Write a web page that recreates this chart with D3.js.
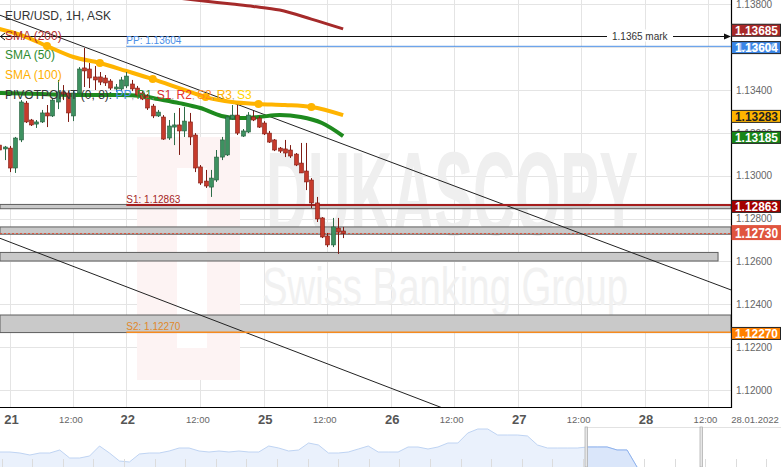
<!DOCTYPE html>
<html><head><meta charset="utf-8">
<script src="https://cdn.jsdelivr.net/npm/d3@7"></script>
<style>html,body{margin:0;padding:0;background:#fff;} svg{display:block;font-family:"Liberation Sans",Arial,sans-serif;}</style>
</head><body><svg id="c" width="781" height="467"></svg>
<script>
// ---------- DATA ----------
const openP  = [1.13143,1.13125,1.13129,1.13036,1.13167,1.13339,1.13260,1.13241,1.13251,1.13293,1.13279,1.13344,1.13391,1.13386,1.13279,1.13386,1.13503,1.13498,1.13461,1.13461,1.13456,1.13442,1.13405,1.13405,1.13419,1.13428,1.13409,1.13386,1.13372,1.13325,1.13279,1.13274,1.13176,1.13227,1.13237,1.13209,1.13251,1.13190,1.13041,1.12975,1.12947,1.12980,1.13087,1.13097,1.13265,1.13283,1.13185,1.13204,1.13274,1.13269,1.13246,1.13199,1.13167,1.13129,1.13125,1.13120,1.13101,1.13059,1.13022,1.12980,1.12873,1.12803,1.12719,1.12677,1.12756,1.12742];
const highP  = [1.13153,1.13139,1.13139,1.13181,1.13353,1.13349,1.13265,1.13260,1.13307,1.13330,1.13363,1.13447,1.13423,1.13395,1.13400,1.13507,1.13596,1.13526,1.13512,1.13484,1.13470,1.13451,1.13428,1.13461,1.13484,1.13447,1.13419,1.13395,1.13381,1.13335,1.13307,1.13283,1.13260,1.13293,1.13316,1.13321,1.13293,1.13199,1.13050,1.13027,1.13027,1.13120,1.13181,1.13283,1.13330,1.13330,1.13218,1.13297,1.13302,1.13279,1.13255,1.13209,1.13171,1.13134,1.13167,1.13143,1.13106,1.13153,1.13153,1.12989,1.12901,1.12807,1.12733,1.12803,1.12803,1.12761];
const lowP   = [1.13097,1.13073,1.13017,1.13013,1.13157,1.13246,1.13232,1.13223,1.13246,1.13227,1.13274,1.13311,1.13353,1.13251,1.13255,1.13381,1.13414,1.13409,1.13400,1.13423,1.13419,1.13400,1.13391,1.13395,1.13409,1.13395,1.13367,1.13353,1.13307,1.13269,1.13274,1.13167,1.13167,1.13143,1.13097,1.13181,1.13143,1.13017,1.12957,1.12943,1.12901,1.12971,1.13073,1.13092,1.13260,1.13190,1.13181,1.13199,1.13255,1.13223,1.13190,1.13153,1.13115,1.13106,1.13087,1.13083,1.13045,1.13013,1.12933,1.12849,1.12784,1.12709,1.12667,1.12667,1.12635,1.12709];
const closeP = [1.13120,1.13134,1.13036,1.13176,1.13344,1.13251,1.13237,1.13251,1.13293,1.13279,1.13353,1.13391,1.13381,1.13293,1.13386,1.13498,1.13489,1.13456,1.13447,1.13437,1.13433,1.13409,1.13414,1.13447,1.13465,1.13405,1.13377,1.13358,1.13316,1.13279,1.13297,1.13171,1.13232,1.13237,1.13209,1.13255,1.13181,1.13036,1.12966,1.12952,1.12989,1.13087,1.13167,1.13274,1.13283,1.13199,1.13209,1.13283,1.13260,1.13227,1.13195,1.13157,1.13120,1.13115,1.13106,1.13092,1.13050,1.13013,1.12971,1.12873,1.12798,1.12714,1.12677,1.12761,1.12737,1.12730];

const sma100Idx = [0,4,9,14,19,24,29,34,39,44,49,54,59,65];
const sma100Val = [1.13685,1.13657,1.13605,1.13554,1.13526,1.13489,1.13451,1.13409,1.13367,1.13344,1.13335,1.13330,1.13321,1.13283];
const sma100Markers = [9,19,29,39,49,59];
const sma50Idx = [0,8,15,23,27,30,34,38,42,45,49,53,57,61,65];
const sma50Val = [1.13386,1.13381,1.13377,1.13377,1.13372,1.13358,1.13339,1.13316,1.13279,1.13269,1.13274,1.13283,1.13274,1.13246,1.13185];
const sma200Idx = [30,37,44,48,53,59,65];
const sma200Val = [1.13840,1.13820,1.13801,1.13790,1.13773,1.13731,1.13685];

const trendUpper = [[0,1.13750],[138.35,1.12467]];
const trendLower = [[0,1.12709],[138.35,1.11400]];

const zoneTop    = [1.12866,1.12761,1.12642,1.12350];
const zoneBottom = [1.12846,1.12727,1.12602,1.12268];
const zoneEnd    = [138.35,138.35,135.9,138.35];

const pivotStart = 24;
const ppValue = 1.13604, s1Value = 1.12863, s2Value = 1.12270;
const markValue = 1.1365, markLabel = "1.1365 mark";
const lastPrice = 1.12730;

const yTicks = [1.138,1.136,1.134,1.132,1.130,1.128,1.126,1.124,1.122,1.120];
const xTickIdx = [2,14,24,38,50,62,74,86,98,110,122,134];
const xTickLabels = ["21","12:00","22","12:00","25","12:00","26","12:00","27","12:00","28","12:00"];
const rightDateLabel = "28.01.2022";

const navValues = [15,15,14,12,14,14,17,9,9,11,21,14,6,5,13,14,14,16,19,19,16,15,16,15,16,15,15,21,19,16,17,24,22,14,14,15,18,21,15,15,15,20,20,18,20,24,24,34,38,38,32,32,32,31,22,19,19,19,19,20,20,20,17,17,0];

// ---------- SETUP ----------
const svg = d3.select("#c");
const plotR = 731, plotB = 407;
const x = d3.scaleLinear().domain([0,138.35]).range([-0.58,plotR]);
const y = d3.scaleLinear().domain([1.12,1.138]).range([390,4.3]);

svg.append("defs").append("clipPath").attr("id","plot")
  .append("rect").attr("x",0).attr("y",0).attr("width",plotR).attr("height",plotB);

// grid
const grid = svg.append("g");
grid.selectAll("line.h").data(yTicks).join("line")
  .attr("x1",0).attr("x2",plotR).attr("y1",d=>Math.round(y(d))+0.5).attr("y2",d=>Math.round(y(d))+0.5)
  .attr("stroke","#e4e4e4");
grid.selectAll("line.v").data(xTickIdx).join("line")
  .attr("y1",0).attr("y2",plotB).attr("x1",d=>Math.round(x(d))+0.5).attr("x2",d=>Math.round(x(d))+0.5)
  .attr("stroke","#e4e4e4");

// watermark
const wm = svg.append("g");
wm.append("rect").attr("x",137).attr("y",137).attr("width",103).attr("height",243).attr("fill","#fdf3f3");
wm.append("rect").attr("x",177).attr("y",168).attr("width",30).attr("height",180).attr("fill","#ffffff");
wm.append("text").attr("x",266).attr("y",235).attr("font-size",118).attr("font-weight","bold")
  .attr("textLength",372).attr("lengthAdjust","spacingAndGlyphs").attr("fill","#efefef").text("DUKASCOPY");
wm.append("text").attr("x",262).attr("y",305).attr("font-size",54)
  .attr("textLength",366).attr("lengthAdjust","spacingAndGlyphs").attr("fill","#f1f1f1").text("Swiss Banking Group");

const plot = svg.append("g").attr("clip-path","url(#plot)");

// zones
plot.selectAll("rect.zone").data(zoneTop).join("rect")
  .attr("x",0).attr("y",(d)=>y(d)).attr("width",(d,i)=>x(zoneEnd[i]))
  .attr("height",(d,i)=>y(zoneBottom[i])-y(d))
  .attr("fill","#c9c9c9").attr("stroke","#5e5e5e").attr("stroke-width",1);

// current price dotted line
plot.append("line").attr("x1",0).attr("x2",plotR).attr("y1",y(lastPrice)).attr("y2",y(lastPrice))
  .attr("stroke","#e0533b").attr("stroke-dasharray","2,2");

// trend lines
const tl = d3.line().x(d=>x(d[0])).y(d=>y(d[1]));
[trendUpper,trendLower].forEach(t=>plot.append("path").attr("d",tl(t)).attr("fill","none").attr("stroke","#222").attr("stroke-width",1));

// mark line
const my = Math.round(y(markValue))+0.5;
plot.append("line").attr("x1",0).attr("x2",plotR-2).attr("y1",my).attr("y2",my).attr("stroke","#111");
plot.append("path").attr("d",`M5,${my-3.5}L0.5,${my}L5,${my+3.5}`).attr("fill","none").attr("stroke","#111");
plot.append("path").attr("d",`M${plotR},${my}L${plotR-7},${my-3}L${plotR-7},${my+3}Z`).attr("fill","#111");
plot.append("rect").attr("x",607).attr("y",my-7).attr("width",66).attr("height",12).attr("fill","#fff");
plot.append("text").attr("x",612).attr("y",my+3.5).attr("font-size",10).attr("fill","#333").text(markLabel);

// pivot lines
const pivots = [
  {v:ppValue, lab:"PP: "+ppValue.toFixed(5), c:"#4a8fe7", lc:"#4a8fe7", w:1},
  {v:s1Value, lab:"S1: "+s1Value.toFixed(5), c:"#a51e1e", lc:"#a51e1e", w:2},
  {v:s2Value, lab:"S2: "+s2Value.toFixed(5), c:"#f58a1f", lc:"#e0882a", w:1.5}
];
pivots.forEach(p=>{
  const yy = y(p.v);
  plot.append("line").attr("x1",x(pivotStart)).attr("x2",plotR).attr("y1",yy).attr("y2",yy)
    .attr("stroke",p.c).attr("stroke-width",p.w);
  plot.append("text").attr("x",x(pivotStart)).attr("y",yy-2.5).attr("font-size",10).attr("fill",p.lc).text(p.lab);
});

// SMAs
const smaLine = d3.line().curve(d3.curveMonotoneX).x(d=>x(d[0])).y(d=>y(d[1]));
plot.append("path").attr("d",smaLine(sma200Idx.map((d,i)=>[d,sma200Val[i]])))
  .attr("fill","none").attr("stroke","#a52a2a").attr("stroke-width",3);
plot.append("path").attr("d",smaLine(sma100Idx.map((d,i)=>[d,sma100Val[i]])))
  .attr("fill","none").attr("stroke","#ffb400").attr("stroke-width",4);
plot.selectAll("circle.m").data(sma100Markers).join("circle")
  .attr("cx",d=>x(d)).attr("cy",d=>{const k=sma100Idx.indexOf(d);return y(sma100Val[k]);})
  .attr("r",4).attr("fill","#ffb400");
plot.append("path").attr("d",smaLine(sma50Idx.map((d,i)=>[d,sma50Val[i]])))
  .attr("fill","none").attr("stroke","#1e8a1e").attr("stroke-width",4);

// candles
const candles = openP.map((o,i)=>({i,o,h:highP[i],l:lowP[i],c:closeP[i]}));
const cg = plot.append("g");
candles.forEach(d=>{
  const up = d.c >= d.o;
  const cx = Math.round(x(d.i))+0.5;
  cg.append("line").attr("x1",cx).attr("x2",cx).attr("y1",y(d.h)).attr("y2",y(d.l))
    .attr("stroke", up?"#2d6d48":"#7f1d15").attr("stroke-width",1);
  const top = y(Math.max(d.o,d.c)), bot = y(Math.min(d.o,d.c));
  cg.append("rect").attr("x",cx-2).attr("width",4).attr("y",top).attr("height",Math.max(1.2,bot-top))
    .attr("fill", up?"#3d9160":"#c63a2b").attr("stroke", up?"#245c3b":"#7f1d15").attr("stroke-width",0.6);
});

// frame
svg.append("line").attr("x1",plotR+0.5).attr("x2",plotR+0.5).attr("y1",0).attr("y2",plotB+1).attr("stroke","#000").attr("stroke-width",1.2);
svg.append("line").attr("x1",0).attr("x2",plotR+1).attr("y1",plotB+0.5).attr("y2",plotB+0.5).attr("stroke","#000").attr("stroke-width",1.2);

// y axis
const yAxis = d3.axisRight(y).tickValues(yTicks).tickFormat(d3.format(".5f")).tickSize(0).tickPadding(0);
const ya = svg.append("g").attr("transform",`translate(${plotR+5},0)`).call(yAxis);
ya.select(".domain").remove();
ya.selectAll("text").attr("font-size",10).attr("fill","#666").attr("font-family","Liberation Sans, Arial, sans-serif");

// right axis value boxes
const boxes = [
  {v:sma200Val[sma200Val.length-1], fill:"#a82828", tc:"#fff"},
  {v:ppValue, fill:"#3a86e6", tc:"#fff"},
  {v:sma100Val[sma100Val.length-1], fill:"#ffb400", tc:"#222"},
  {v:sma50Val[sma50Val.length-1], fill:"#188518", tc:"#fff"},
  {v:s1Value, fill:"#a30000", tc:"#fff"},
  {v:s2Value, fill:"#ff8000", tc:"#fff"}
];
boxes.forEach(b=>{
  const cy = y(b.v)+1.3;
  svg.append("rect").attr("x",plotR+0.5).attr("y",cy-6).attr("width",49).attr("height",12)
    .attr("fill",b.fill).attr("stroke","#222").attr("stroke-width",1);
  svg.append("text").attr("x",plotR+4).attr("y",cy+4.3).attr("font-size",12).attr("font-weight","bold")
    .attr("textLength",43).attr("lengthAdjust","spacingAndGlyphs").attr("fill",b.tc).text(b.v.toFixed(5));
});
// overlapping axis label inside the PP box
svg.append("text").attr("x",plotR+6).attr("y",y(1.136)+4).attr("font-size",11).attr("font-weight","bold")
  .attr("fill","#fff").attr("opacity",0.55).text("1.13600");
// current price box
{
  const cy = y(lastPrice)-1;
  svg.append("rect").attr("x",plotR+0.5).attr("y",cy-7.5).attr("width",50).attr("height",15).attr("fill","#e0553f");
  svg.append("text").attr("x",plotR+4).attr("y",cy+5).attr("font-size",14).attr("font-weight","bold")
    .attr("textLength",43).attr("lengthAdjust","spacingAndGlyphs").attr("fill","#fff").text(lastPrice.toFixed(5));
}

// x axis
const xAxis = d3.axisBottom(x).tickValues(xTickIdx).tickFormat((d,i)=>xTickLabels[i]).tickSize(0).tickPadding(0);
const xa = svg.append("g").attr("transform",`translate(0,${plotB})`).call(xAxis);
xa.select(".domain").remove();
xa.selectAll("text").each(function(d,i){
  const isDay = xTickLabels[i] !== "12:00";
  d3.select(this).attr("y",isDay?17:16).attr("dy",0).attr("dx",isDay?1:-3)
    .attr("font-size",isDay?13:9.5).attr("font-weight",isDay?"bold":"normal")
    .attr("fill",isDay?"#555":"#666").attr("font-family","Liberation Sans, Arial, sans-serif");
});
svg.append("text").attr("x",755).attr("y",plotB+15.5).attr("text-anchor","middle").attr("font-size",9.5)
  .attr("fill","#666").text(rightDateLabel);

// navigator
const navX = d3.scaleLinear().domain([0,navValues.length-1]).range([0,637]);
const navY = d3.scaleLinear().domain([0,40]).range([467,427]);
const navTicks = d3.scaleLinear().domain([0,25.5]).range([1.5,781.8]);
const nav = svg.append("g");
const area = d3.area().x((d,i)=>navX(i)).y0(467).y1(d=>navY(d));
const nline = d3.line().x((d,i)=>navX(i)).y(d=>navY(d));
nav.append("path").attr("d",area(navValues)).attr("fill","#eaf1fc");
nav.append("path").attr("d",nline(navValues)).attr("fill","none").attr("stroke","#bfd4f3");
nav.selectAll("line.t").data(d3.range(0,26)).join("line")
  .attr("x1",d=>Math.round(navTicks(d))+0.5).attr("x2",d=>Math.round(navTicks(d))+0.5)
  .attr("y1",459).attr("y2",467).attr("stroke","#dcdcdc");
svg.select("defs").append("clipPath").attr("id","sel").append("rect").attr("x",586).attr("y",420).attr("width",115).attr("height",50);
const selG = nav.append("g").attr("clip-path","url(#sel)");
selG.append("path").attr("d",area(navValues)).attr("fill","#dae6fa");
selG.append("path").attr("d",nline(navValues)).attr("fill","none").attr("stroke","#8fb2ed");
nav.append("line").attr("x1",586).attr("x2",781).attr("y1",427.5).attr("y2",427.5).attr("stroke","#e2e2e2");
[585,700].forEach(hx=>{
  nav.append("rect").attr("x",hx).attr("y",427).attr("width",2.5).attr("height",40).attr("fill","#e6e6e6").attr("stroke","#a8a8a8").attr("stroke-width",0.7);
});

// legend
const lg = svg.append("g").attr("font-size",12);
lg.append("text").attr("x",5).attr("y",20).attr("fill","#333").text("EUR/USD, 1H, ASK");
lg.append("text").attr("x",5).attr("y",39.6).attr("fill","#b22e2e").text("SMA (200)");
lg.append("text").attr("x",5).attr("y",59.2).attr("fill","#2e8b2e").text("SMA (50)");
lg.append("text").attr("x",5).attr("y",78.8).attr("fill","#ffb000").text("SMA (100)");
const pv = lg.append("text").attr("x",5).attr("y",98.5).attr("fill","#333");
pv.append("tspan").text("PIVOTPOINT (0, 8): ");
const pivParts = [["PP","#4a8fe7"],["R1","#2e8b2e"],["S1","#d42a2a"],["R2","#e8322a"],["S2","#ff8a1a"],["R3","#ffb000"],["S3","#ffd400"]];
pivParts.forEach((p,i)=>{
  pv.append("tspan").attr("fill",p[1]).text(p[0]);
  if(i<pivParts.length-1) pv.append("tspan").attr("fill","#999").attr("font-size",9).text(", ");
});
</script></body></html>
